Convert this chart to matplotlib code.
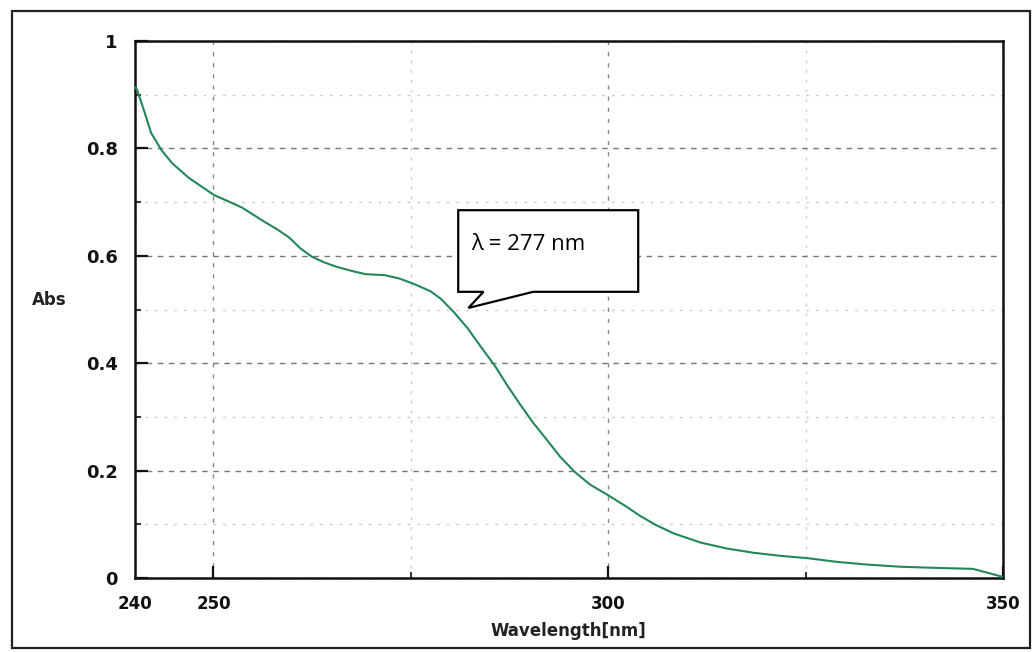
import matplotlib
matplotlib.use("Agg")
import matplotlib.pyplot as plt
from matplotlib.patches import Polygon, Rectangle
from matplotlib.ticker import MultipleLocator

# UV absorbance spectrum
wavelength = [240, 240.3, 240.6, 241.3, 242.1, 243.4, 244.8, 246.9, 248.6, 250.1,
              251.8, 253.6, 255.0, 256.5, 258.0, 259.6, 261.0, 262.5, 264.0, 265.5,
              267.5, 269.2, 271.7, 273.5, 275.5, 277.5, 278.8, 280.4, 282.2, 283.8,
              285.7, 287.2, 288.9, 290.5, 292.3, 293.9, 295.8, 297.7, 299.9, 302.4,
              304.0, 306.0, 308.3, 311.7, 315.0, 318.4, 322.0, 325.2, 329.0, 332.8,
              337.0, 341.1, 346.2, 348.0, 350.0]
absorbance = [0.915, 0.910, 0.897, 0.866, 0.829, 0.797, 0.772, 0.745, 0.728, 0.713,
              0.702, 0.690, 0.677, 0.663, 0.650, 0.634, 0.614, 0.598, 0.588, 0.580,
              0.572, 0.566, 0.564, 0.558, 0.547, 0.534, 0.520, 0.496, 0.465, 0.432,
              0.394, 0.359, 0.322, 0.289, 0.256, 0.226, 0.197, 0.174, 0.155, 0.132,
              0.116, 0.099, 0.083, 0.066, 0.055, 0.047, 0.041, 0.037, 0.030, 0.025,
              0.021, 0.019, 0.017, 0.010, 0.002]

x_ticks = [240, 250, 300, 350]
y_ticks = [0, 0.2, 0.4, 0.6, 0.8, 1.0]
y_labels = ["0", "0.2", "0.4", "0.6", "0.8", "1"]
callout_text = "λ = 277 nm"

fig = plt.figure(figsize=(10.35, 6.52), dpi=100)
ax = fig.add_axes([0.130, 0.1135, 0.839, 0.8235])

# outer frame around the whole figure
fig.patches.append(Rectangle((0.0116, 0.006), 0.9836, 0.977, transform=fig.transFigure,
                             fill=False, edgecolor="#222222", linewidth=1.6))

ax.plot(wavelength, absorbance, color="#23875a", linewidth=1.5, zorder=3)

ax.set_xlim(240, 350)
ax.set_ylim(0, 1)
ax.set_xticks(x_ticks)
ax.set_xticklabels([str(t) for t in x_ticks], fontweight="bold", fontsize=12)
ax.set_yticks(y_ticks)
ax.set_yticklabels(y_labels, fontweight="bold", fontsize=13)
ax.xaxis.set_minor_locator(MultipleLocator(25))
ax.yaxis.set_minor_locator(MultipleLocator(0.1))

ax.tick_params(axis="both", which="major", direction="in", length=9, width=1.6,
               colors="#111111")
ax.tick_params(axis="both", which="minor", direction="in", length=4, width=1.2,
               colors="#111111")
ax.tick_params(axis="y", which="major", pad=12)
ax.tick_params(axis="x", which="major", pad=12)
# 240 tick sits at the corner, no visible mark needed
ax.get_xticklines()[0].set_visible(False)

# major grid dashed, minor grid faint dotted
ax.grid(True, which="major", linestyle=(0, (4, 4)), color="#777777", linewidth=1.0)
ax.grid(True, which="minor", linestyle=(0, (2, 5)), color="#cccccc", linewidth=1.0)
ax.xaxis.grid(True, which="major", linestyle=(0, (3, 5)), color="#888888", linewidth=1.0)

for spine in ax.spines.values():
    spine.set_linewidth(1.8)
    spine.set_color("#111111")

ax.set_xlabel("Wavelength[nm]", fontweight="bold", fontsize=12, color="#222222",
              labelpad=7)
fig.text(0.048, 0.54, "Abs", fontweight="bold", fontsize=12, color="#222222",
         ha="center", va="center")

# speech-bubble callout
bubble = [(281.0, 0.685), (303.8, 0.685), (303.8, 0.533), (290.5, 0.533),
          (282.3, 0.503), (284.2, 0.533), (281.0, 0.533)]
ax.add_patch(Polygon(bubble, closed=True, facecolor="white", edgecolor="black",
                     linewidth=1.6, zorder=4))
ax.text(282.6, 0.622, callout_text, fontsize=16, family=["Open Sans", "DejaVu Sans"],
        ha="left", va="center", zorder=5)

fig.savefig("out.png", dpi=100)
